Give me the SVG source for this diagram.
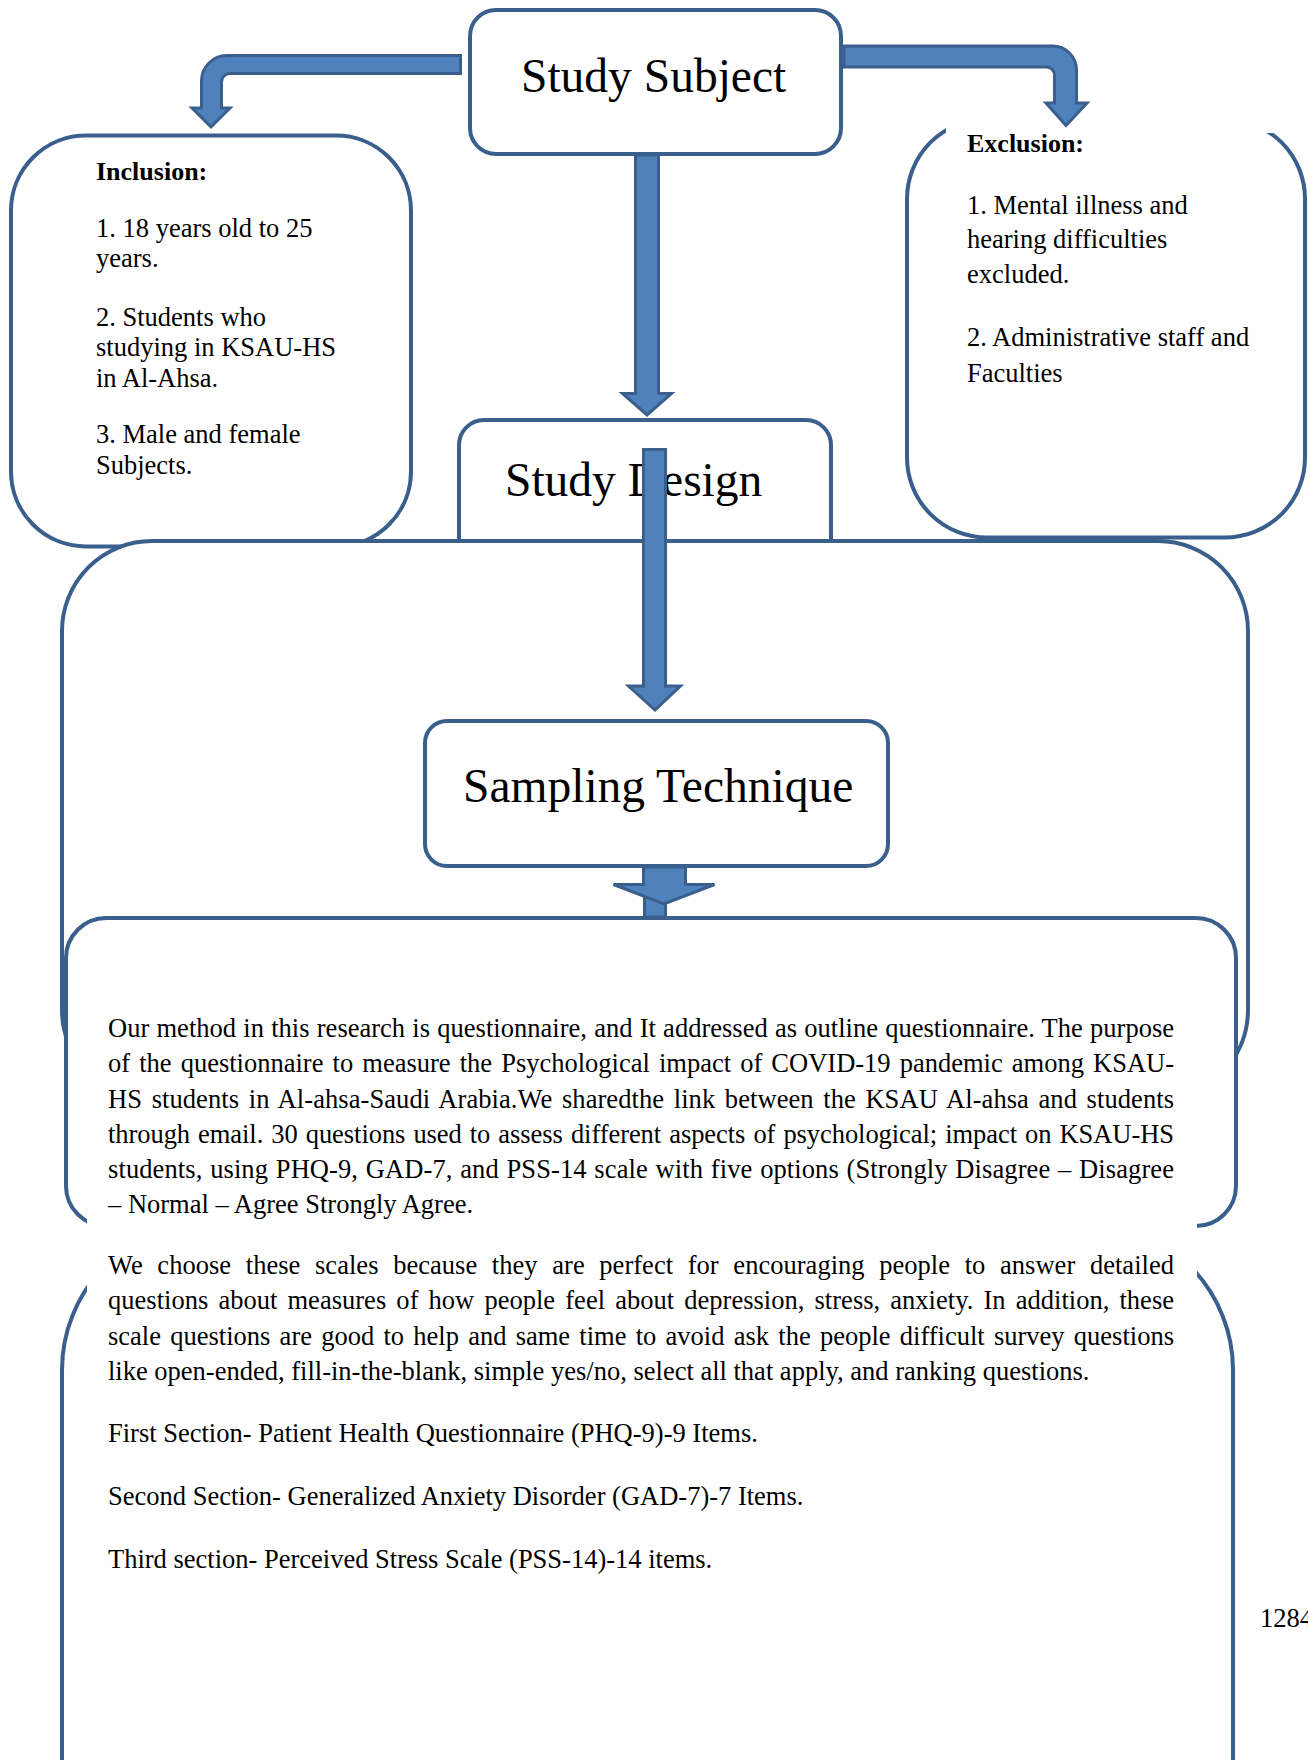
<svg xmlns="http://www.w3.org/2000/svg" width="1308" height="1760" viewBox="0 0 1308 1760">
<defs>
<style>
.box{fill:#ffffff;stroke:#3A5F8D;stroke-width:4}
.mask{fill:#ffffff;stroke:none}
.arrow{fill:#4F81BD;stroke:#3A5F8D;stroke-width:3;stroke-linejoin:miter}
.t{font-family:"Liberation Serif","Times New Roman",serif;fill:#000000}
.title{font-size:47.5px}
.body{font-size:26.5px}
.bold{font-size:26px;font-weight:bold}
</style>
</defs>
<rect width="1308" height="1760" fill="#ffffff"/>

<g id="inclusion">
<rect class="box" x="11" y="135.5" width="400" height="411" rx="75" ry="75"/>
<text class="t bold" x="96" y="180">Inclusion:</text>
<text class="t body" x="96" y="237">1. 18 years old to 25</text>
<text class="t body" x="96" y="267">years.</text>
<text class="t body" x="96" y="325.5">2. Students who</text>
<text class="t body" x="96" y="356">studying in KSAU-HS</text>
<text class="t body" x="96" y="386.5">in Al-Ahsa.</text>
<text class="t body" x="96" y="443">3. Male and female</text>
<text class="t body" x="96" y="474">Subjects.</text>
</g>

<g id="exclusion">
<rect class="box" x="907" y="119" width="398" height="418.5" rx="80" ry="80"/>
<rect class="mask" x="946" y="105" width="327" height="28"/>
<text class="t bold" x="967" y="152">Exclusion:</text>
<text class="t body" x="967" y="213.5">1. Mental illness and</text>
<text class="t body" x="967" y="248">hearing difficulties</text>
<text class="t body" x="967" y="283">excluded.</text>
<text class="t body" x="967" y="345.5">2. Administrative staff and</text>
<text class="t body" x="967" y="382">Faculties</text>
</g>

<g id="study-subject">
<rect class="box" x="470" y="10" width="371" height="144" rx="26" ry="26"/>
<text class="t title" x="521" y="92">Study Subject</text>
</g>

<g id="study-design">
<rect class="box" x="459" y="420" width="372" height="160" rx="25" ry="25"/>
<text class="t title" x="505" y="496">Study Design</text>
</g>

<g id="design-frame">
<rect class="box" x="62" y="541" width="1186" height="559" rx="90" ry="90"/>
</g>

<g id="sampling-technique">
<rect class="box" x="425" y="721" width="463" height="145" rx="22" ry="22"/>
<text class="t title" x="463" y="802">Sampling Technique</text>
</g>

<g id="method-box">
<rect class="box" x="66" y="918" width="1170" height="308" rx="40" ry="40"/>
</g>

<g id="scales-box">
<rect class="box" x="62" y="1223" width="1171" height="700" rx="147" ry="147"/>
</g>

<g id="method-text">
<rect class="mask" x="87" y="1000" width="1110" height="320"/>
<text class="t body" x="108" y="1036.5" word-spacing="0.6" textLength="1066" lengthAdjust="spacing">Our method in this research is questionnaire, and It addressed as outline questionnaire. The purpose</text>
<text class="t body" x="108" y="1072" word-spacing="2.5" textLength="1066" lengthAdjust="spacing">of the questionnaire to measure the Psychological impact of COVID-19 pandemic among KSAU-</text>
<text class="t body" x="108" y="1107.5" word-spacing="2.9" textLength="1066" lengthAdjust="spacing">HS students in Al-ahsa-Saudi Arabia.We sharedthe link between the KSAU Al-ahsa and students</text>
<text class="t body" x="108" y="1143" word-spacing="1.5" textLength="1066" lengthAdjust="spacing">through email. 30 questions used to assess different aspects of psychological; impact on KSAU-HS</text>
<text class="t body" x="108" y="1178" word-spacing="1" textLength="1066" lengthAdjust="spacing">students, using PHQ-9, GAD-7, and PSS-14 scale with five options (Strongly Disagree – Disagree</text>
<text class="t body" x="108" y="1213">– Normal – Agree Strongly Agree.</text>
<text class="t body" x="108" y="1273.5" word-spacing="8" textLength="1066" lengthAdjust="spacing">We choose these scales because they are perfect for encouraging people to answer detailed</text>
<text class="t body" x="108" y="1309" word-spacing="3.5" textLength="1066" lengthAdjust="spacing">questions about measures of how people feel about depression, stress, anxiety. In addition, these</text>
<text class="t body" x="108" y="1344.5" word-spacing="2.6" textLength="1066" lengthAdjust="spacing">scale questions are good to help and same time to avoid ask the people difficult survey questions</text>
<text class="t body" x="108" y="1379.5">like open-ended, fill-in-the-blank, simple yes/no, select all that apply, and ranking questions.</text>
<text class="t body" x="108" y="1441.5">First Section- Patient Health Questionnaire (PHQ-9)-9 Items.</text>
<text class="t body" x="108" y="1504.5">Second Section- Generalized Anxiety Disorder (GAD-7)-7 Items.</text>
<text class="t body" x="108" y="1567.5">Third section- Perceived Stress Scale (PSS-14)-14 items.</text>
</g>

<g id="page-number">
<text class="t body" x="1260" y="1626.5">1284</text>
</g>

<g id="connectors">
<path class="arrow" d="M 460.5 55.5 L 227 55.5 A 25.5 25.5 0 0 0 201.5 81 L 201.5 108 L 192 108 L 211 127 L 230 108 L 221.5 108 L 221.5 82 A 8.5 8.5 0 0 1 230 73.5 L 460.5 73.5 Z"/>
<path class="arrow" d="M 844 46 L 1052.5 46 A 24 24 0 0 1 1076.5 70 L 1076.5 103 L 1087 103 L 1066 125.5 L 1046 103 L 1054.5 103 L 1054.5 75 A 8 8 0 0 0 1046.5 67 L 844 67 Z"/>
<path class="arrow" d="M 635.5 155 L 658.5 155 L 658.5 393.5 L 671.5 393.5 L 647 415 L 622.5 393.5 L 635.5 393.5 Z"/>
<path class="arrow" d="M 643.5 449.5 L 665.5 449.5 L 665.5 686 L 680.5 686 L 655 710 L 628.5 686 L 643.5 686 Z"/>
<rect class="arrow" x="644.5" y="875" width="21" height="42"/>
<path class="arrow" d="M 643.5 867 L 685.5 867 L 685.5 884.5 L 714.5 884.5 L 664 904 L 613.5 884.5 L 643.5 884.5 Z"/>
</g>
</svg>
